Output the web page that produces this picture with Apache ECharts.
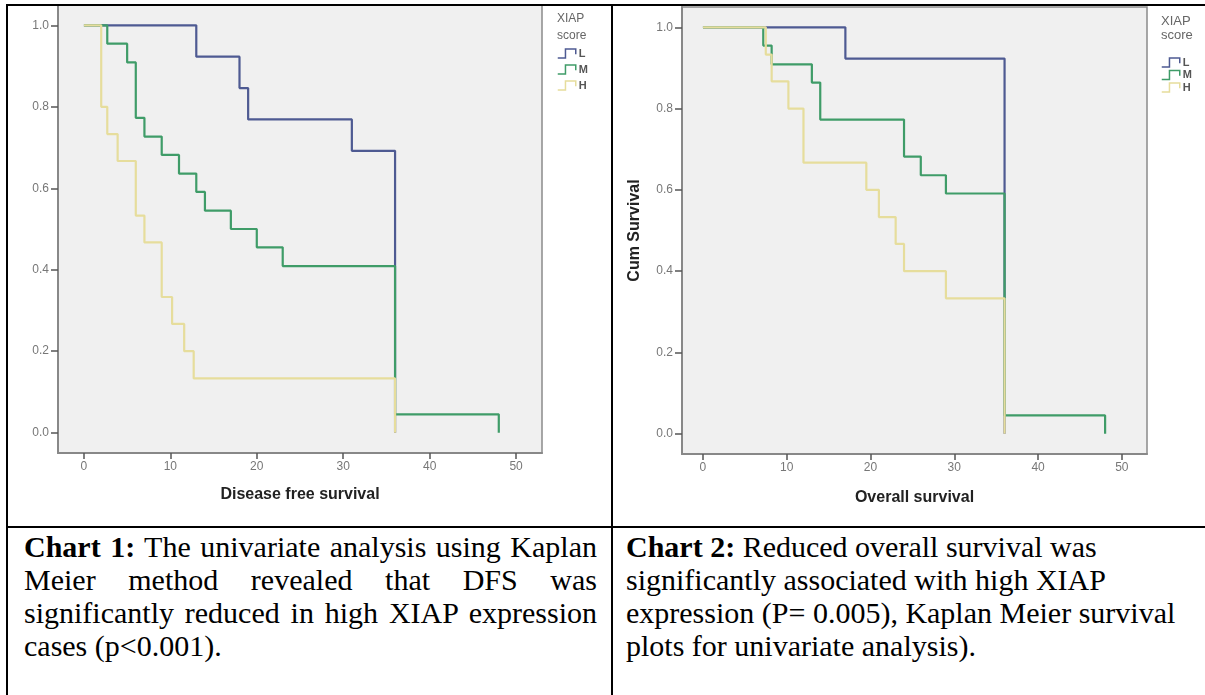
<!DOCTYPE html>
<html><head><meta charset="utf-8">
<script src="https://cdn.jsdelivr.net/npm/echarts@6/dist/echarts.min.js"></script>
<style>
html,body{margin:0;padding:0;background:#fff;width:1205px;height:695px;overflow:hidden;position:relative;}
.chart{position:absolute;}
.rule{position:absolute;background:#000;z-index:5;}
.cap{position:absolute;font-family:"Liberation Serif",serif;font-size:30px;line-height:33px;color:#000;z-index:4;}
.cap div{white-space:nowrap;}
.cap div.j{text-align:justify;text-align-last:justify;white-space:normal;}
</style></head><body>
<div id="c1" class="chart" style="left:0;top:0;width:612px;height:527px"></div>
<div id="c2" class="chart" style="left:612px;top:0;width:593px;height:527px"></div>
<div class="rule" style="left:6px;top:4px;width:1199px;height:2px"></div>
<div class="rule" style="left:6px;top:4px;width:2px;height:691px"></div>
<div class="rule" style="left:611px;top:4px;width:2px;height:691px"></div>
<div class="rule" style="left:6px;top:526px;width:1199px;height:2px"></div>
<div class="cap" style="left:24px;top:530px;width:573px">
<div class="j"><b>Chart 1:</b> The univariate analysis using Kaplan</div>
<div class="j">Meier method revealed that DFS was</div>
<div class="j">significantly reduced in high XIAP expression</div>
<div>cases (p&lt;0.001).</div>
</div>
<div class="cap" style="left:626px;top:530px;width:575px">
<div><b>Chart 2:</b> Reduced overall survival was</div>
<div>significantly associated with high XIAP</div>
<div>expression (P= 0.005), Kaplan Meier survival</div>
<div>plots for univariate analysis).</div>
</div>
<script>
// Tick labels
const xTicks = [0, 10, 20, 30, 40, 50];
const yTicks = [0, 0.2, 0.4, 0.6, 0.8, 1.0];
const groups = ['L', 'M', 'H'];

// Chart 1: Disease free survival (months, cumulative survival)
const dfsTimeL = [0, 13, 18, 19, 31, 36];
const dfsSurvL = [1, 0.923, 0.846, 0.769, 0.692, 0];
const dfsTimeM = [0, 2.7, 5, 6, 7, 9, 11, 13, 14, 17, 20, 23, 36, 48];
const dfsSurvM = [1, 0.955, 0.909, 0.773, 0.727, 0.682, 0.636, 0.591, 0.545, 0.5, 0.455, 0.409, 0.045, 0];
const dfsTimeH = [0, 2, 2.7, 3.9, 6, 7, 9, 10.2, 11.6, 12.7, 36];
const dfsSurvH = [1, 0.8, 0.733, 0.667, 0.533, 0.467, 0.333, 0.267, 0.2, 0.133, 0];

// Chart 2: Overall survival
const osTimeL = [0, 17, 36];
const osSurvL = [1, 0.923, 0];
const osTimeM = [0, 7.2, 8.2, 13, 14, 24, 26, 29, 36, 48];
const osSurvM = [1, 0.955, 0.909, 0.864, 0.773, 0.682, 0.636, 0.591, 0.045, 0];
const osTimeH = [0, 7.5, 8.2, 10.2, 12, 19.5, 21, 23, 24, 29, 36];
const osSurvH = [1, 0.933, 0.867, 0.8, 0.667, 0.6, 0.533, 0.467, 0.4, 0.333, 0];

const colors = { L: '#4e5a92', M: '#3f9c68', H: '#e6dd9c' };
const stepIcon = 'path://M0,9 L6,9 L6,2 L14,2 L14,6';

function zip(t, s) { return t.map((v, i) => [v, s[i]]); }

function makeOption(cfg) {
  return {
    animation: false,
    backgroundColor: '#fff',
    title: {
      text: 'XIAP\nscore', left: cfg.legLeft, top: cfg.titleTop,
      textStyle: { fontFamily: 'Liberation Sans, Arial, sans-serif', fontSize: cfg.legFont, fontWeight: 'normal', color: '#666', lineHeight: cfg.titleLH }
    },
    legend: {
      orient: 'vertical', left: cfg.legLeft, top: cfg.legTop,
      itemWidth: 20, itemHeight: 9, itemGap: cfg.legGap,
      textStyle: { fontFamily: 'Liberation Sans, Arial, sans-serif', fontSize: 11, fontWeight: 'bold', color: '#555', padding: [0, 0, 0, -3] },
      data: groups.map(g => ({ name: g, icon: stepIcon, itemStyle: { color: 'rgba(0,0,0,0)', borderColor: colors[g], borderWidth: 1.5 } }))
    },
    grid: {
      left: cfg.gLeft, top: cfg.gTop, width: cfg.gW, height: cfg.gH,
      show: true, backgroundColor: '#f0f0f0', borderColor: '#8a8a8a', borderWidth: 1.5
    },
    xAxis: {
      type: 'value', min: cfg.xMin, max: 53,
      name: cfg.xName, nameLocation: 'middle', nameGap: cfg.xNameGap,
      nameTextStyle: { fontFamily: 'Liberation Sans, Arial, sans-serif', fontSize: 16, fontWeight: 'bold', color: '#222' },
      axisLine: { show: true, onZero: false, lineStyle: { color: '#888', width: 2 } },
      axisTick: { show: true, length: 6, customValues: xTicks, lineStyle: { color: '#555', width: 1.5 } },
      axisLabel: { customValues: xTicks, margin: 8, fontFamily: 'Liberation Sans, Arial, sans-serif', fontSize: 12, color: '#777' },
      splitLine: { show: false }
    },
    yAxis: {
      type: 'value', min: -0.05, max: 1.05,
      name: cfg.yName, nameLocation: 'middle', nameGap: 39,
      nameTextStyle: { fontFamily: 'Liberation Sans, Arial, sans-serif', fontSize: 16, fontWeight: 'bold', color: '#222' },
      axisLine: { show: true, onZero: false, lineStyle: { color: '#888', width: 2 } },
      axisTick: { show: true, length: 7, customValues: yTicks, lineStyle: { color: '#555', width: 1.5 } },
      axisLabel: { customValues: yTicks, margin: 9, formatter: v => v.toFixed(1), fontFamily: 'Liberation Sans, Arial, sans-serif', fontSize: 12, color: '#777' },
      splitLine: { show: false }
    },
    series: groups.map(g => ({
      name: g, type: 'line', step: 'end', symbol: 'none',
      data: cfg.data[g],
      lineStyle: { color: colors[g], width: 2.2 },
      itemStyle: { color: colors[g] }
    }))
  };
}

const c1 = echarts.init(document.getElementById('c1'), null, { renderer: 'canvas' });
c1.setOption(makeOption({
  gLeft: 58, gTop: 5, gW: 484, gH: 448, xMin: -3, xNameGap: 34,
  xName: 'Disease free survival', yName: '',
  legLeft: 552, titleTop: 5, titleLH: 17, legFont: 12, legTop: 43, legGap: 5,
  data: { L: zip(dfsTimeL, dfsSurvL), M: zip(dfsTimeM, dfsSurvM), H: zip(dfsTimeH, dfsSurvH) }
}));

const c2 = echarts.init(document.getElementById('c2'), null, { renderer: 'canvas' });
c2.setOption(makeOption({
  gLeft: 70, gTop: 7, gW: 465, gH: 447, xMin: -2.5, xNameGap: 36,
  xName: 'Overall survival', yName: 'Cum Survival',
  legLeft: 544, titleTop: 9, titleLH: 14, legFont: 13, legTop: 52, legGap: 1.5,
  data: { L: zip(osTimeL, osSurvL), M: zip(osTimeM, osSurvM), H: zip(osTimeH, osSurvH) }
}));
</script>
</body></html>
